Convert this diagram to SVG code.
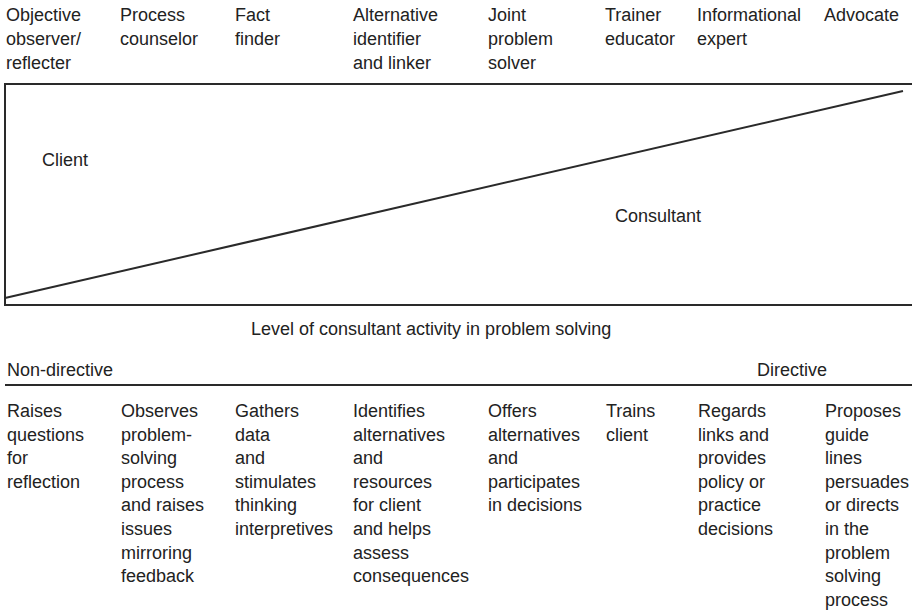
<svg xmlns="http://www.w3.org/2000/svg" width="912" height="611" viewBox="0 0 912 611">
<style>
text{font-family:"Liberation Sans",Arial,Helvetica,sans-serif;font-size:18px;fill:#222}
.ln{stroke:#2a2a2a;stroke-width:2;fill:none}
</style>
<rect width="912" height="611" fill="#fff"/>
<g id="roles">
<text x="6" y="21">Objective<tspan x="6" dy="24">observer/</tspan><tspan x="6" dy="24">reflecter</tspan></text>
<text x="120" y="21">Process<tspan x="120" dy="24">counselor</tspan></text>
<text x="235" y="21">Fact<tspan x="235" dy="24">finder</tspan></text>
<text x="353" y="21">Alternative<tspan x="353" dy="24">identifier</tspan><tspan x="353" dy="24">and linker</tspan></text>
<text x="488" y="21">Joint<tspan x="488" dy="24">problem</tspan><tspan x="488" dy="24">solver</tspan></text>
<text x="605" y="21">Trainer<tspan x="605" dy="24">educator</tspan></text>
<text x="697" y="21">Informational<tspan x="697" dy="24">expert</tspan></text>
<text x="824" y="21">Advocate</text>
</g>
<g id="box">
<path class="ln" d="M912 84 H5 V305 H912"/>
<path class="ln" d="M5 298 L903 91"/>
<text x="42" y="166">Client</text>
<text x="615" y="222">Consultant</text>
</g>
<g id="scale">
<text x="251" y="335">Level of consultant activity in problem solving</text>
<text x="7" y="376">Non-directive</text>
<text x="757" y="376">Directive</text>
<path class="ln" d="M5 385 H912"/>
</g>
<g id="activities">
<text x="7" y="417">Raises<tspan x="7" dy="23.6">questions</tspan><tspan x="7" dy="23.6">for</tspan><tspan x="7" dy="23.6">reflection</tspan></text>
<text x="121" y="417">Observes<tspan x="121" dy="23.6">problem-</tspan><tspan x="121" dy="23.6">solving</tspan><tspan x="121" dy="23.6">process</tspan><tspan x="121" dy="23.6">and raises</tspan><tspan x="121" dy="23.6">issues</tspan><tspan x="121" dy="23.6">mirroring</tspan><tspan x="121" dy="23.6">feedback</tspan></text>
<text x="235" y="417">Gathers<tspan x="235" dy="23.6">data</tspan><tspan x="235" dy="23.6">and</tspan><tspan x="235" dy="23.6">stimulates</tspan><tspan x="235" dy="23.6">thinking</tspan><tspan x="235" dy="23.6">interpretives</tspan></text>
<text x="353" y="417">Identifies<tspan x="353" dy="23.6">alternatives</tspan><tspan x="353" dy="23.6">and</tspan><tspan x="353" dy="23.6">resources</tspan><tspan x="353" dy="23.6">for client</tspan><tspan x="353" dy="23.6">and helps</tspan><tspan x="353" dy="23.6">assess</tspan><tspan x="353" dy="23.6">consequences</tspan></text>
<text x="488" y="417">Offers<tspan x="488" dy="23.6">alternatives</tspan><tspan x="488" dy="23.6">and</tspan><tspan x="488" dy="23.6">participates</tspan><tspan x="488" dy="23.6">in decisions</tspan></text>
<text x="606" y="417">Trains<tspan x="606" dy="23.6">client</tspan></text>
<text x="698" y="417">Regards<tspan x="698" dy="23.6">links and</tspan><tspan x="698" dy="23.6">provides</tspan><tspan x="698" dy="23.6">policy or</tspan><tspan x="698" dy="23.6">practice</tspan><tspan x="698" dy="23.6">decisions</tspan></text>
<text x="825" y="417">Proposes<tspan x="825" dy="23.6">guide</tspan><tspan x="825" dy="23.6">lines</tspan><tspan x="825" dy="23.6">persuades</tspan><tspan x="825" dy="23.6">or directs</tspan><tspan x="825" dy="23.6">in the</tspan><tspan x="825" dy="23.6">problem</tspan><tspan x="825" dy="23.6">solving</tspan><tspan x="825" dy="23.6">process</tspan></text>
</g>
</svg>
